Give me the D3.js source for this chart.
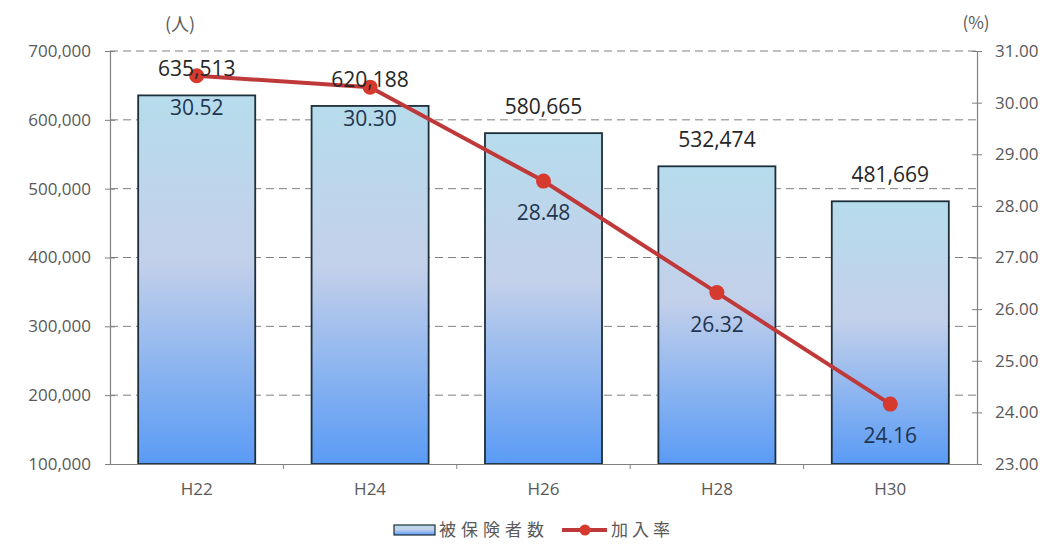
<!DOCTYPE html>
<html><head><meta charset="utf-8">
<script src="https://cdn.jsdelivr.net/npm/d3@7"></script>
<style>body{margin:0;background:#fff}svg{display:block}</style>
</head><body>
<svg id="c" width="1050" height="544"></svg>
<script>
const categories = ["H22","H24","H26","H28","H30"];
const insured = [635513, 620188, 580665, 532474, 481669];
const rate = [30.52, 30.30, 28.48, 26.32, 24.16];
const leftTicks = [100000,200000,300000,400000,500000,600000,700000];
const rightTicks = [23,24,25,26,27,28,29,30,31];
const seriesNames = ["被保険者数","加入率"];

const svg = d3.select("#c");
const L = 110, R = 977, T = 51, B = 464;
const x = d3.scaleBand().domain(categories).range([L, R]).paddingInner(0.325).paddingOuter(0.1625);
const xb = d3.scaleBand().domain(categories).range([L, R]);
const yL = d3.scaleLinear().domain([100000, 700000]).range([B, T]);
const yR = d3.scaleLinear().domain([23, 31]).range([B, T]);
const fmt = d3.format(",");
const font = "'Open Sans', 'Noto Sans', sans-serif";
const cjk = "'Noto Sans CJK JP', sans-serif";
const tc = "#595959";

const defs = svg.append("defs");
const g = defs.append("linearGradient").attr("id","bg").attr("x1",0).attr("y1",0).attr("x2",0).attr("y2",1);
g.append("stop").attr("offset","0%").attr("stop-color","#b6dcec");
g.append("stop").attr("offset","45%").attr("stop-color","#c3d0ea");
g.append("stop").attr("offset","100%").attr("stop-color","#5a9bf5");

// gridlines
svg.append("g").selectAll("line").data(leftTicks.filter(d=>d>100000)).join("line")
  .attr("x1",L).attr("x2",R).attr("y1",d=>yL(d)).attr("y2",d=>yL(d))
  .attr("stroke","#808080").attr("stroke-width",1).attr("stroke-dasharray","8,5");

// bars
svg.append("g").selectAll("rect").data(insured).join("rect")
  .attr("x",(d,i)=>x(categories[i])).attr("width",x.bandwidth())
  .attr("y",d=>yL(d)).attr("height",d=>B-yL(d))
  .attr("fill","url(#bg)").attr("stroke","#1d2f3a").attr("stroke-width",1.8);

// left axis
const la = svg.append("g").attr("transform",`translate(${L},0)`)
  .call(d3.axisLeft(yL).tickValues(leftTicks).tickFormat(fmt).tickSizeInner(5).tickSizeOuter(0).tickPadding(14));
la.selectAll(".tick line").attr("x2",-5).attr("x1",5);
// right axis
const ra = svg.append("g").attr("transform",`translate(${R},0)`)
  .call(d3.axisRight(yR).tickValues(rightTicks).tickFormat(d3.format(".2f")).tickSizeInner(5).tickSizeOuter(0).tickPadding(13));
ra.selectAll(".tick line").attr("x1",-5).attr("x2",5);
// bottom axis
const ba = svg.append("g").attr("transform",`translate(0,${B})`)
  .call(d3.axisBottom(xb).tickSize(0).tickPadding(19));
ba.selectAll(".tick line").remove();
svg.append("g").selectAll("line").data(categories.slice(1)).join("line")
  .attr("x1",d=>xb(d)).attr("x2",d=>xb(d)).attr("y1",B).attr("y2",B+5).attr("stroke","#808080");
[la,ra,ba].forEach(a=>{
  a.select(".domain").attr("stroke","#808080").attr("stroke-width",1.2);
  a.selectAll(".tick line").attr("stroke","#808080");
  a.selectAll("text").attr("fill",tc).style("font-family",font).style("font-size","17px");
});

// unit labels
svg.append("text").attr("x",180).attr("y",31).attr("text-anchor","middle").attr("fill",tc)
  .style("font-family",cjk).style("font-size","18px").text("(人)");
svg.append("text").attr("x",976).attr("y",29).attr("text-anchor","middle").attr("fill",tc)
  .style("font-family",cjk).style("font-size","17px").text("(%)");

// line
const line = d3.line().x((d,i)=>xb(categories[i])+xb.bandwidth()/2).y(d=>yR(d));
svg.append("path").datum(rate).attr("d",line).attr("fill","none").attr("stroke","#c0393a").attr("stroke-width",4);
svg.append("g").selectAll("circle").data(rate).join("circle")
  .attr("cx",(d,i)=>xb(categories[i])+xb.bandwidth()/2).attr("cy",d=>yR(d)).attr("r",7.5)
  .attr("fill","#d63a2f");

// bar labels
svg.append("g").selectAll("text").data(insured).join("text")
  .attr("x",(d,i)=>xb(categories[i])+xb.bandwidth()/2).attr("y",d=>yL(d)-19)
  .attr("text-anchor","middle").attr("fill","#262626")
  .style("font-family",font).style("font-size","21px").text(d=>fmt(d));
// rate labels
svg.append("g").selectAll("text").data(rate).join("text")
  .attr("x",(d,i)=>xb(categories[i])+xb.bandwidth()/2).attr("y",d=>yR(d)+39)
  .attr("text-anchor","middle").attr("fill","#1f3550")
  .style("font-family",font).style("font-size","21px").text(d=>d.toFixed(2));

// legend
const lg = svg.append("g");
lg.append("rect").attr("x",394).attr("y",525).attr("width",41).attr("height",10)
  .attr("fill","url(#bg)").attr("stroke","#1d2f3a").attr("stroke-width",1.2);
lg.append("text").attr("x",439).attr("y",536).attr("fill",tc)
  .style("font-family",cjk).style("font-size","17px").style("letter-spacing","5px").text(seriesNames[0]);
lg.append("line").attr("x1",562).attr("x2",607).attr("y1",530).attr("y2",530).attr("stroke","#c0393a").attr("stroke-width",4);
lg.append("circle").attr("cx",585).attr("cy",530).attr("r",5.5).attr("fill","#d63a2f");
lg.append("text").attr("x",611).attr("y",536).attr("fill",tc)
  .style("font-family",cjk).style("font-size","17px").style("letter-spacing","4px").text(seriesNames[1]);
</script>
</body></html>
